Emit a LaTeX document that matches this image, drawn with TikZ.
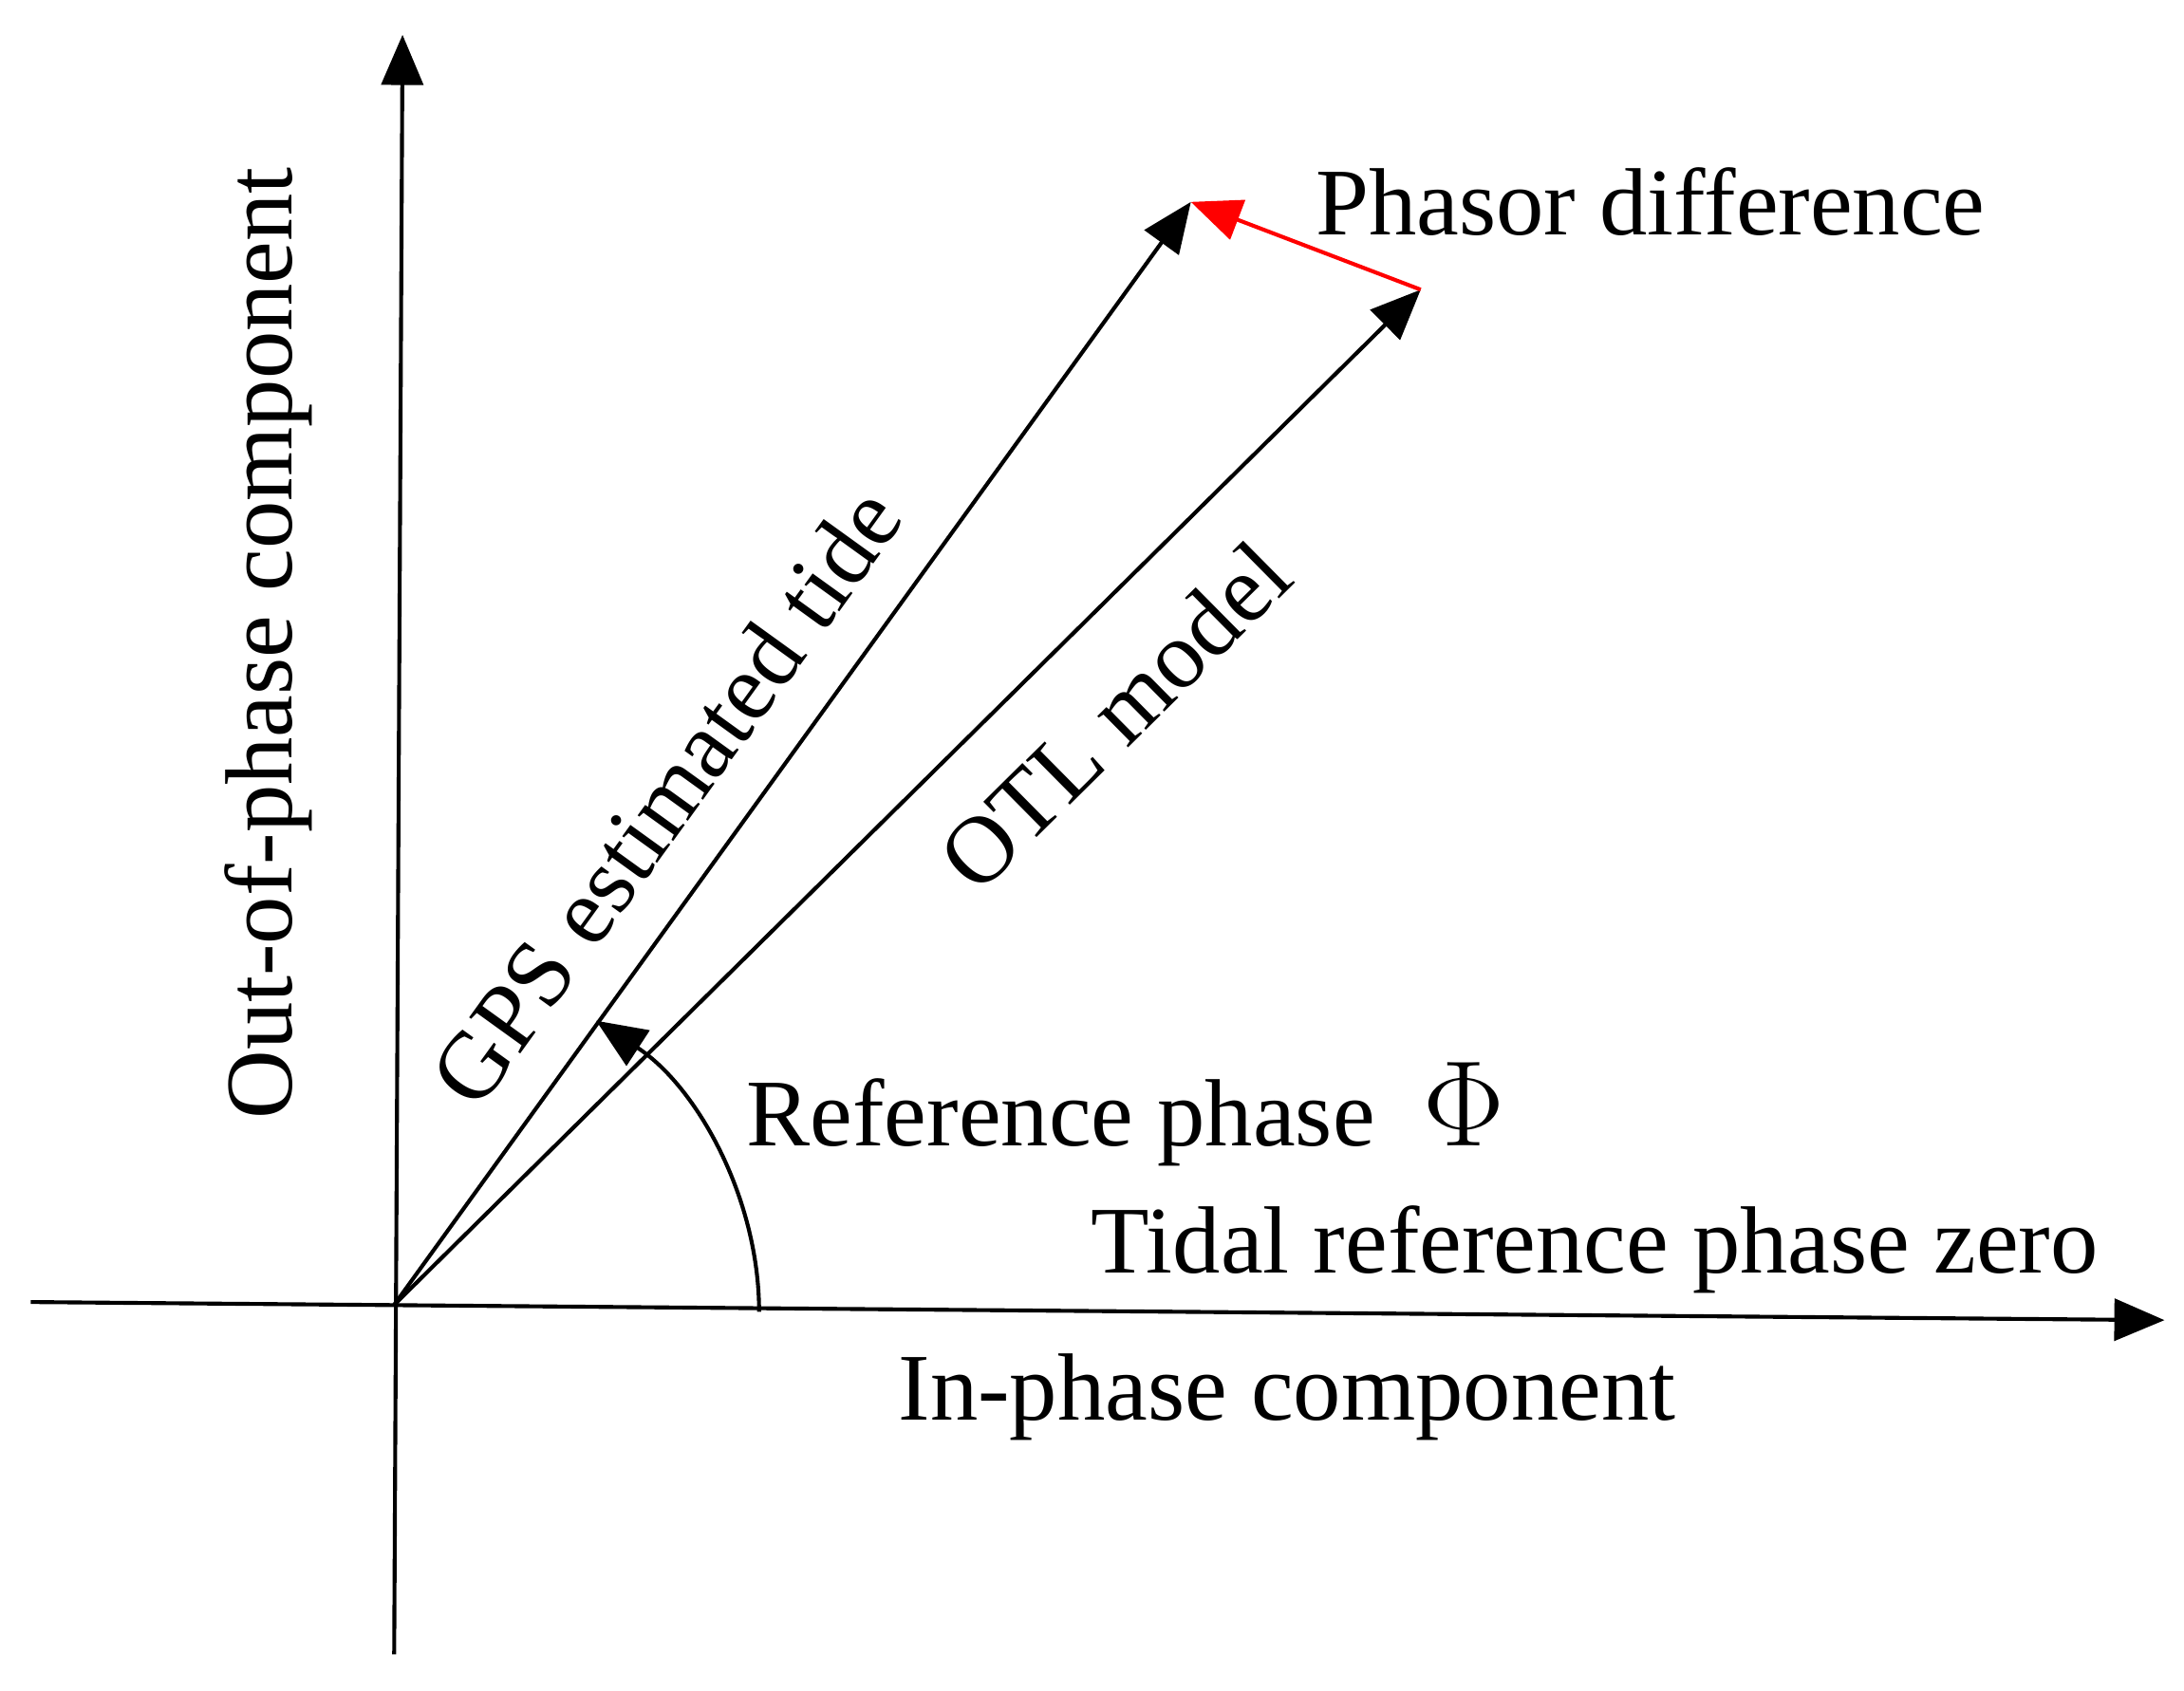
\documentclass[tikz,border=0pt]{standalone}
\usepackage{fontspec}
\setmainfont{Liberation Serif}
\usetikzlibrary{arrows.meta}
\begin{document}
\begin{tikzpicture}[x=0.01cm,y=-0.01cm,
  tip/.style={-{Triangle[length=0.36cm,width=0.3cm]}},
  lab/.style={font=\fontsize{19.5}{23}\selectfont, inner sep=0pt}]
\useasboundingbox (0,0) rectangle (1568,1214);
\coordinate (O) at (283,937);
\coordinate (ybot) at (283,1188);
\coordinate (ytop) at (289,25);
\coordinate (xl) at (22,935);
\coordinate (xr) at (1554,948);
\coordinate (G) at (855,145);
\coordinate (M) at (1020,208);
\coordinate (arcS) at (545,942);
\coordinate (arcE) at (428,733);
\draw[tip,thick] (ybot) -- (ytop);
\draw[tip,thick] (xl) -- (xr);
\draw[tip,thick] (O) -- (G);
\draw[tip,thick] (O) -- (M);
\draw[tip,thick,red] (M) -- (G);
\draw[tip,thick] (arcS) .. controls (545,860) and (500,780) .. (arcE);
\node[lab] (pd) at (1185,145) {Phasor difference};
\node[lab,rotate=54.2] (gps) at (478,572) {GPS estimated tide};
\node[lab,rotate=44.7] (otl) at (800,514) {OTL model};
\node[lab,rotate=90] (oop) at (193,462) {Out-of-phase component};
\node[lab] (rp) at (808,800) {Reference phase\ \ {\fontsize{26}{26}\selectfont$\Phi$}};
\node[lab] (tz) at (1145,897) {Tidal reference phase zero};
\node[lab] (ip) at (924,1003) {In-phase component};
\end{tikzpicture}
\end{document}
